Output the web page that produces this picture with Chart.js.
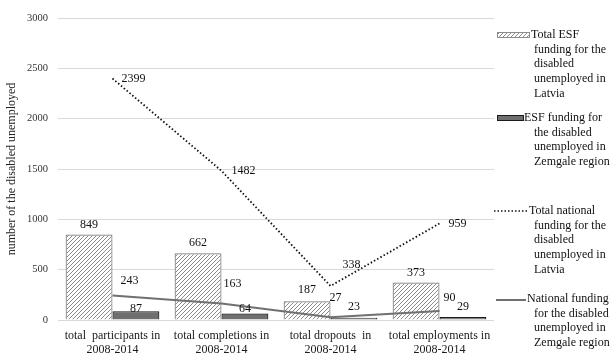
<!DOCTYPE html>
<html>
<head>
<meta charset="utf-8">
<script src="https://cdn.jsdelivr.net/npm/chart.js@4/dist/chart.umd.min.js"></script>
<style>
  html, body { margin: 0; padding: 0; background: #fff; }
  #wrap { position: relative; width: 610px; height: 354px; }
</style>
</head>
<body>
<div id="wrap"><canvas id="c" width="610" height="354"></canvas></div>
<script>
// Categories and series (number of disabled unemployed, 2008-2014)
const categories = [
  ["total  participants in", "2008-2014"],
  ["total completions in", "2008-2014"],
  ["total dropouts  in", "2008-2014"],
  ["total employments in", "2008-2014"]
];
const esfLatvia = [849, 662, 187, 373];
const esfZemgale = [87, 64, 23, 29];
const nationalLatvia = [2399, 1482, 338, 959];
const nationalZemgale = [243, 163, 27, 90];
const yTicks = [0, 500, 1000, 1500, 2000, 2500, 3000];

const seriesNames = [
  ["Total ESF", "funding for the", "disabled", "unemployed in", "Latvia"],
  ["ESF funding for", "the disabled", "unemployed in", "Zemgale region"],
  ["Total national", "funding for the", "disabled", "unemployed in", "Latvia"],
  ["National funding", "for the disabled", "unemployed in", "Zemgale region"]
];

const SERIF = "'Liberation Serif', 'Times New Roman', serif";

// diagonal hatch fill for the Latvia ESF bars
function hatchPattern() {
  const t = document.createElement('canvas');
  t.width = 4; t.height = 4;
  const g = t.getContext('2d');
  g.fillStyle = '#ffffff';
  g.fillRect(0, 0, 4, 4);
  g.strokeStyle = '#8c8c8c';
  g.lineWidth = 1;
  g.beginPath();
  g.moveTo(0, 4); g.lineTo(4, 0);
  g.moveTo(-1, 1); g.lineTo(1, -1);
  g.moveTo(3, 5); g.lineTo(5, 3);
  g.stroke();
  return g.createPattern(t, 'repeat');
}
const hatch = hatchPattern();

// value labels next to each mark
const valueLabels = {
  id: 'valueLabels',
  afterDatasetsDraw(chart, args, opts) {
    const ctx = chart.ctx;
    ctx.save();
    ctx.font = '12px ' + SERIF;
    ctx.fillStyle = '#111';
    ctx.textBaseline = 'middle';
    chart.data.datasets.forEach((ds, di) => {
      const meta = chart.getDatasetMeta(di);
      const off = opts.offsets[di];
      meta.data.forEach((el, i) => {
        const txt = String(ds.data[i]);
        ctx.textAlign = ds.type === 'line' ? 'left' : 'center';
        ctx.fillText(txt, el.x + off[i][0], el.y + off[i][1]);
      });
    });
    ctx.restore();
  }
};

// legend on the right with wrapped series names
const sideLegend = {
  id: 'sideLegend',
  afterDraw(chart) {
    const ctx = chart.ctx;
    ctx.save();
    ctx.font = '12px ' + SERIF;
    ctx.textBaseline = 'middle';
    ctx.textAlign = 'left';
    const tops = [35, 118, 211, 299];
    const firstX = [531, 524, 529, 527];
    const lineH = 14.6;
    // symbols
    ctx.fillStyle = hatch;
    ctx.fillRect(497, 32, 33, 6);
    ctx.strokeStyle = '#8c8c8c'; ctx.lineWidth = 1;
    ctx.strokeRect(497.5, 32.5, 32, 5);
    ctx.fillStyle = '#6f6f6f';
    ctx.fillRect(497, 115, 27, 6);
    ctx.strokeStyle = '#1a1a1a';
    ctx.strokeRect(497.5, 115.5, 26, 5);
    ctx.strokeStyle = '#111'; ctx.lineWidth = 1.5;
    ctx.setLineDash([1.5, 2]);
    ctx.beginPath(); ctx.moveTo(494, 211); ctx.lineTo(527, 211); ctx.stroke();
    ctx.setLineDash([]);
    ctx.strokeStyle = '#707070'; ctx.lineWidth = 2;
    ctx.beginPath(); ctx.moveTo(496, 300); ctx.lineTo(526, 300); ctx.stroke();
    // texts
    ctx.fillStyle = '#111';
    seriesNames.forEach((lines, k) => {
      lines.forEach((ln, j) => {
        ctx.fillText(ln, j === 0 ? firstX[k] : 534, tops[k] + j * lineH);
      });
    });
    ctx.restore();
  }
};

new Chart(document.getElementById('c'), {
  data: {
    labels: categories,
    datasets: [
      {
        type: 'bar', label: seriesNames[0].join(' '), data: esfLatvia,
        backgroundColor: hatch, borderColor: '#7d7d7d', borderWidth: 1.2,
        order: 3
      },
      {
        type: 'bar', label: seriesNames[1].join(' '), data: esfZemgale,
        backgroundColor: '#6f6f6f', borderColor: '#1a1a1a', borderWidth: 1.2,
        order: 3
      },
      {
        type: 'line', label: seriesNames[2].join(' '), data: nationalLatvia,
        borderColor: '#111', borderWidth: 1.8, borderDash: [1.5, 2.2],
        pointRadius: 0, tension: 0, fill: false, order: 1
      },
      {
        type: 'line', label: seriesNames[3].join(' '), data: nationalZemgale,
        borderColor: '#707070', borderWidth: 2,
        pointRadius: 0, tension: 0, fill: false, order: 2
      }
    ]
  },
  options: {
    responsive: false,
    animation: false,
    layout: { padding: { left: 0, right: 116, top: 18, bottom: 0 } },
    datasets: { bar: { categoryPercentage: 0.86, barPercentage: 1.0 } },
    plugins: {
      legend: { display: false },
      tooltip: { enabled: false },
      valueLabels: {
        offsets: [
          [[0, -10], [0, -11], [0, -11], [0, -10]],
          [[0, -2], [0, -5], [0, -11], [0, -10]],
          [[9, 0], [10, 0], [12, -21], [9, 0]],
          [[8, -15], [2, -20], [-1, -19], [4, -13]]
        ]
      }
    },
    scales: {
      x: {
        grid: { display: false },
        border: { display: false },
        ticks: {
          color: '#1a1a1a', padding: 1,
          font: { family: SERIF, size: 12, lineHeight: 1.17 },
          maxRotation: 0, autoSkip: false
        },
        afterFit(s) { s.height = 34; }
      },
      y: {
        min: 0, max: 3000,
        afterBuildTicks(s) { s.ticks = yTicks.map(v => ({ value: v })); },
        grid: { color: '#d9d9d9', lineWidth: 1, drawTicks: false },
        border: { display: false },
        ticks: {
          color: '#333', padding: 10,
          font: { family: SERIF, size: 10.5 },
          callback: v => String(v)
        },
        title: {
          display: true, text: 'number of the disabled unemployed',
          color: '#222', font: { family: SERIF, size: 12 },
          padding: { top: 5, bottom: 0 }
        },
        afterFit(s) { s.width = 58; }
      }
    }
  },
  plugins: [valueLabels, sideLegend]
});
</script>
</body>
</html>
